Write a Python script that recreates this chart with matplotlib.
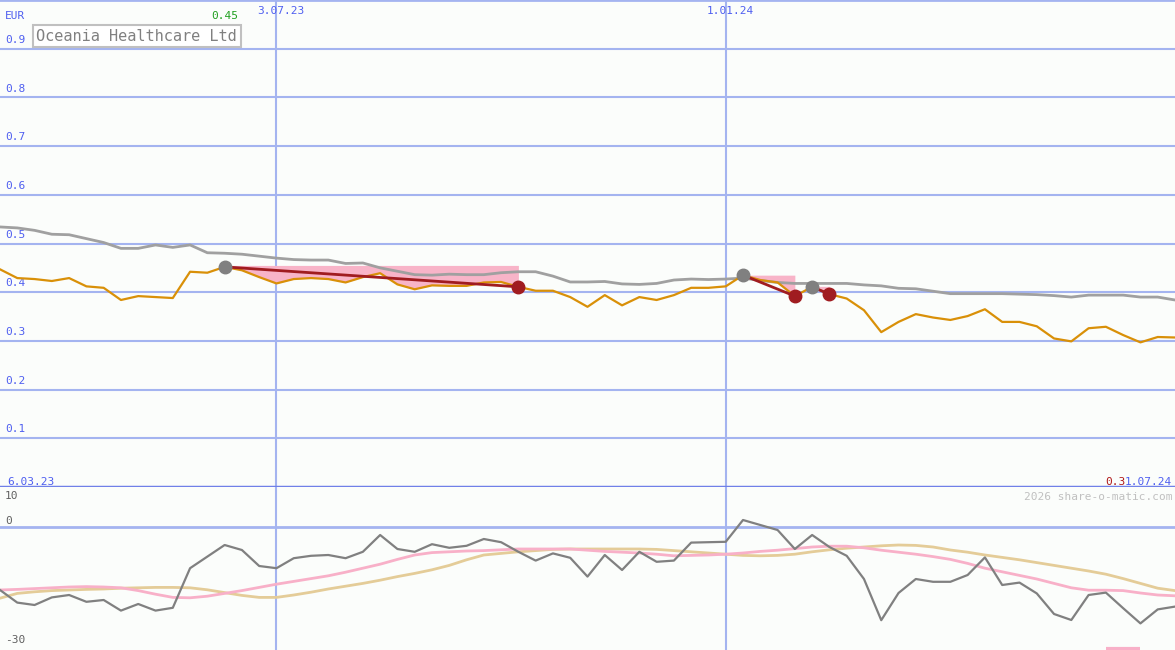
import matplotlib
matplotlib.use("Agg")
import matplotlib.pyplot as plt
import numpy as np

# weekly closes, Oceania Healthcare Ltd (EUR)
price = [0.447, 0.429, 0.427, 0.423, 0.429, 0.412, 0.409, 0.384, 0.392, 0.390,
         0.388, 0.442, 0.440, 0.452, 0.445, 0.431, 0.418, 0.427, 0.429, 0.427,
         0.420, 0.431, 0.439, 0.416, 0.406, 0.414, 0.413, 0.413, 0.420, 0.421,
         0.411, 0.403, 0.403, 0.390, 0.370, 0.394, 0.373, 0.390, 0.384, 0.394,
         0.409, 0.409, 0.412, 0.435, 0.425, 0.420, 0.392, 0.411, 0.396, 0.387,
         0.363, 0.318, 0.339, 0.355, 0.348, 0.343, 0.351, 0.365, 0.339, 0.339,
         0.330, 0.305, 0.299, 0.326, 0.329, 0.312, 0.297, 0.308, 0.307]
avg = [0.534, 0.532, 0.527, 0.519, 0.518, 0.510, 0.502, 0.490, 0.490, 0.497,
       0.492, 0.497, 0.481, 0.480, 0.478, 0.474, 0.470, 0.467, 0.466, 0.466,
       0.459, 0.460, 0.450, 0.443, 0.436, 0.435, 0.437, 0.436, 0.436, 0.440,
       0.442, 0.442, 0.433, 0.421, 0.421, 0.422, 0.417, 0.416, 0.418, 0.425,
       0.427, 0.426, 0.427, 0.429, 0.424, 0.420, 0.418, 0.418, 0.418, 0.418,
       0.415, 0.413, 0.408, 0.407, 0.402, 0.397, 0.397, 0.397, 0.397, 0.396,
       0.395, 0.393, 0.390, 0.394, 0.394, 0.394, 0.390, 0.390, 0.384]
momentum = [-15.75, -18.9, -19.5, -17.6, -17.0, -18.7, -18.25, -20.9, -19.25, -20.9,
            -20.2, -10.3, -7.4, -4.5, -5.75, -9.75, -10.3, -7.8, -7.2, -7.0,
            -7.8, -6.2, -2.0, -5.5, -6.2, -4.3, -5.2, -4.7, -3.0, -3.8,
            -6.2, -8.4, -6.6, -7.7, -12.4, -7.0, -10.75, -6.2, -8.7, -8.4,
            -3.9, -3.8, -3.7, 1.75, 0.5, -0.75, -5.5, -2.0, -5.0, -7.2,
            -13.0, -23.3, -16.5, -13.0, -13.7, -13.7, -12.0, -7.6, -14.5, -13.9,
            -16.6, -21.75, -23.25, -17.0, -16.4, -20.3, -24.1, -20.6, -19.9]
mom_pink = [-15.75, -15.6, -15.4, -15.2, -15.0, -14.9, -15.0, -15.2, -15.9, -16.8,
            -17.6, -17.7, -17.3, -16.6, -15.9, -15.1, -14.3, -13.6, -12.9, -12.2,
            -11.3, -10.3, -9.3, -8.1, -7.0, -6.4, -6.2, -6.0, -5.9, -5.7,
            -5.5, -5.5, -5.5, -5.5, -5.8, -6.1, -6.3, -6.5, -6.8, -7.2,
            -7.1, -7.0, -6.8, -6.5, -6.1, -5.8, -5.4, -5.0, -4.8, -4.8,
            -5.2, -5.8, -6.3, -6.8, -7.4, -8.1, -9.1, -10.3, -11.2, -12.1,
            -13.0, -14.1, -15.2, -15.8, -15.8, -15.9, -16.5, -17.0, -17.2]
mom_tan = [-17.8, -16.6, -16.2, -15.9, -15.75, -15.6, -15.5, -15.3, -15.2, -15.1,
           -15.1, -15.2, -15.7, -16.4, -17.1, -17.6, -17.6, -17.0, -16.3, -15.5,
           -14.8, -14.1, -13.3, -12.4, -11.6, -10.7, -9.6, -8.2, -7.0, -6.6,
           -6.2, -5.9, -5.6, -5.5, -5.5, -5.5, -5.5, -5.5, -5.6, -5.9,
           -6.2, -6.5, -6.8, -7.1, -7.2, -7.1, -6.8, -6.2, -5.7, -5.3,
           -5.0, -4.7, -4.5, -4.6, -5.0, -5.75, -6.3, -7.0, -7.6, -8.2,
           -8.9, -9.6, -10.3, -11.0, -11.8, -12.9, -14.1, -15.3, -15.9]

# signals: (start week, end week, top of shaded box)
signals = [(13, 30, 0.455), (43, 46, 0.435), (47, 48, 0.412)]
date_weeks = [16, 42]
date_labels = ["3.07.23", "1.01.24"]
price_ticks = [0.1, 0.2, 0.3, 0.4, 0.5, 0.6, 0.7, 0.8, 0.9]

x = np.arange(len(price))
bg = "#fbfdfb"
grid = "#a4b4f0"
blue = "#4f5ff0"
mono = "DejaVu Sans Mono"
W = 1175.0

fig = plt.figure(figsize=(11.75, 6.5), dpi=100, facecolor=bg)
ax = fig.add_axes([0, 163 / 650, 1, 487 / 650])
ax2 = fig.add_axes([0, 0, 1, 163 / 650])
for a in (ax, ax2):
    a.set_facecolor(bg)
    a.set_xlim(0, len(price) - 1)
    a.axis("off")
    for w in date_weeks:
        a.axvline(w, color=grid, lw=1.5, zorder=1)

# top panel
ax.set_ylim(0, 1.0)
ty = ax.get_yaxis_transform()
for t in price_ticks:
    ax.axhline(t, color=grid, lw=1.5, zorder=1)
    ax.text(5 / W, t + 0.008, "%.1f" % t, transform=ty,
            fontsize=8, color=blue, family=mono, va="bottom")
ax.axhline(1.0, color=grid, lw=2, zorder=1)
ax.axhline(0, color="#7080e8", lw=2.5, zorder=1)

for s, e, top in signals:
    ax.fill_between(x[s:e + 1], price[s:e + 1], top, color="#f8b4c8", lw=0, zorder=2)

ax.plot(x, avg, color="#a0a0a0", lw=2, zorder=3)
ax.plot(x, price, color="#d99008", lw=1.6, zorder=4)

for s, e, top in signals:
    ax.plot([s, e], [price[s], price[e]], color="#a01c20", lw=2, zorder=5)
    ax.plot(s, price[s], "o", ms=9, color="#808080", zorder=6)
    ax.plot(e, price[e], "o", ms=9, color="#a01c20", zorder=6)

ax.text(5 / W, 0.96, "EUR", transform=ty, fontsize=8, color=blue, family=mono)
ax.text(signals[0][0], 0.96, "%.2f" % price[signals[0][0]], fontsize=8,
        color="#20a020", family=mono, ha="center")
ax.text(1172 / W, 0.005, "1.07.24", transform=ty, fontsize=8,
        color=blue, family=mono, ha="right")
ax.text(1125 / W, 0.005, "%.1f" % price[-1], transform=ty,
        fontsize=8, color="#b01818", family=mono, ha="right")
ax.text(7 / W, 0.005, "6.03.23", transform=ty, fontsize=8,
        color=blue, family=mono)
for w, lab in zip(date_weeks, date_labels):
    ax.text(w + 0.25, 0.972, lab, fontsize=8, color=blue, family=mono, ha="center")
ax.text(0.031, 0.926, "Oceania Healthcare Ltd", transform=ax.transAxes,
        fontsize=11, color="#808080", family=mono, va="center",
        bbox=dict(boxstyle="square,pad=0.22", fc="white", ec="#c0c0c0", lw=1.5))

# bottom panel
ax2.set_ylim(-30.75, 10)
ty2 = ax2.get_yaxis_transform()
ax2.axhline(0, color=grid, lw=2, zorder=1)
ax2.plot(x, mom_tan, color="#e4cc98", lw=2, zorder=2)
ax2.plot(x, mom_pink, color="#f8b0c8", lw=2, zorder=3)
ax2.plot(x, momentum, color="#808080", lw=1.6, zorder=4)
ax2.text(5 / W, 7.8, "10", transform=ty2, fontsize=8, color="#606060",
         family=mono, va="center")
ax2.text(5 / W, 1.5, "0", transform=ty2, fontsize=8, color="#606060",
         family=mono, va="center")
ax2.text(5 / W, -28.3, "-30", transform=ty2, fontsize=8, color="#606060",
         family=mono, va="center")
ax2.text(1172 / W, 7.6, "2026 share-o-matic.com", transform=ty2,
         fontsize=8, color="#c0c0c0", family=mono, ha="right", va="center")
ax2.plot([64.0, 66.0], [-30.5, -30.5], color="#f8b0c8", lw=3, solid_capstyle="butt")

fig.savefig("out.png", dpi=100, facecolor=bg)
